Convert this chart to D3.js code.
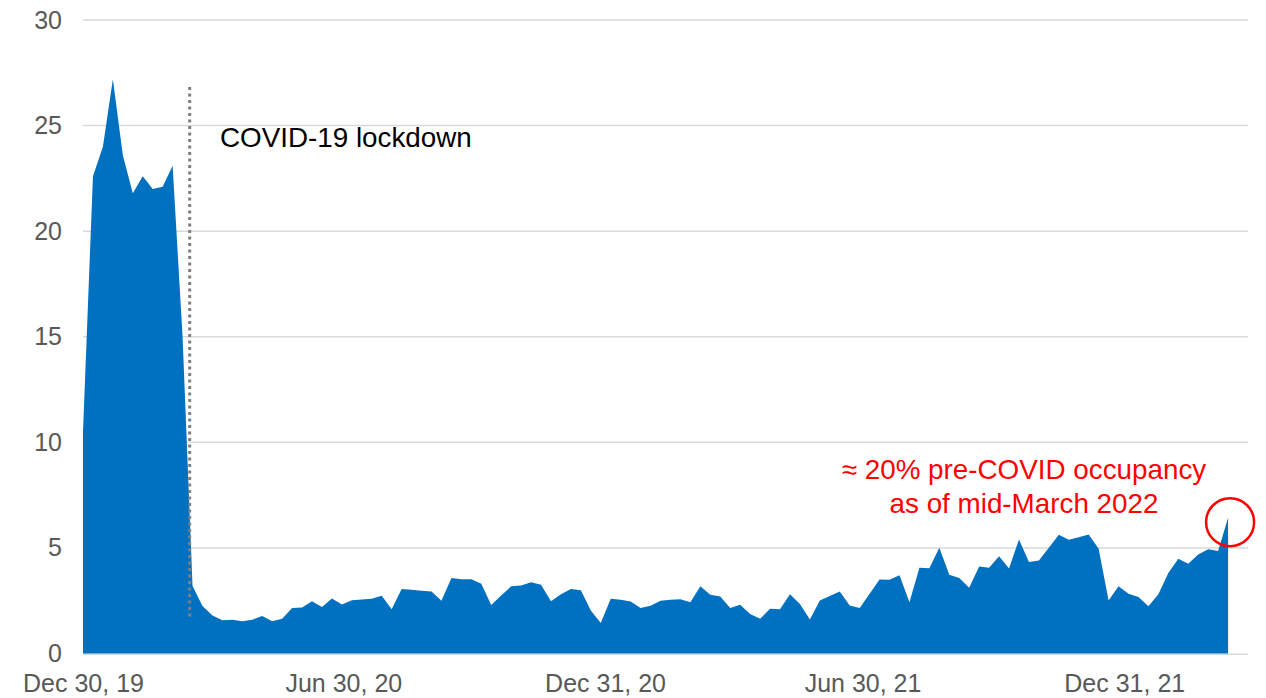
<!DOCTYPE html>
<html>
<head>
<meta charset="utf-8">
<script src="https://cdn.jsdelivr.net/npm/d3@7"></script>
<style>
  html, body { margin: 0; padding: 0; background: #fff; }
  svg { display: block; font-family: "Liberation Sans", Arial, sans-serif; }
</style>
</head>
<body>
<svg id="chart" width="1266" height="698"></svg>
<script>
// ---- Data (weekly, starting Monday Dec 30, 2019) ----
const firstWeek = "2019-12-30";
const lastWeek = "2022-03-14";
const occupancy = [
  10.5, 22.6, 24.0, 27.2, 23.6, 21.8, 22.6, 22.0, 22.1, 23.1,
  15.0, 3.2, 2.25, 1.8, 1.58, 1.6, 1.53, 1.6, 1.78, 1.53,
  1.64, 2.15, 2.18, 2.48, 2.2, 2.6, 2.32, 2.52, 2.56, 2.59,
  2.73, 2.1, 3.05, 3.02, 2.97, 2.94, 2.5, 3.58, 3.52, 3.52,
  3.3, 2.3, 2.75, 3.18, 3.22, 3.38, 3.25, 2.48, 2.81, 3.05,
  2.99, 2.04, 1.45, 2.59, 2.54, 2.46, 2.15, 2.26, 2.5, 2.54,
  2.57, 2.43, 3.18, 2.78, 2.7, 2.15, 2.31, 1.87, 1.64, 2.12,
  2.09, 2.8, 2.35, 1.61, 2.51, 2.72, 2.94, 2.27, 2.16, 2.83,
  3.51, 3.49, 3.7, 2.43, 4.06, 4.04, 5.01, 3.73, 3.57, 3.11,
  4.12, 4.06, 4.6, 4.02, 5.4, 4.33, 4.41, 5.01, 5.62, 5.39,
  5.51, 5.64, 4.96, 2.51, 3.18, 2.83, 2.67, 2.24, 2.8, 3.81,
  4.49, 4.25, 4.69, 4.94, 4.85, 6.43
];
const xTickDates = ["2019-12-30", "2020-06-30", "2020-12-31", "2021-06-30", "2021-12-31"];
const xTickLabels = ["Dec 30, 19", "Jun 30, 20", "Dec 31, 20", "Jun 30, 21", "Dec 31, 21"];
const yTicks = [0, 5, 10, 15, 20, 25, 30];
const axisEnd = "2022-03-28";
const lockdownDate = "2020-03-14";
const lockdownLabel = "COVID-19 lockdown";
const noteLines = ["\u2248 20% pre-COVID occupancy", "as of mid-March 2022"];

// ---- Build ----
(function () {
const parse = d3.utcParse("%Y-%m-%d");
const weeks = d3.utcMonday.range(parse(firstWeek), d3.utcDay.offset(parse(lastWeek), 1));
const data = weeks.map((d, i) => ({ date: d, value: occupancy[i] }));

const svg = d3.select("#chart");
const mLeft = 83, mRight = 1248, mTop = 20, mBottom = 653.5;

const x = d3.scaleUtc().domain([parse(firstWeek), parse(axisEnd)]).range([mLeft, mRight]);
const y = d3.scaleLinear().domain([0, 30]).range([mBottom, mTop]);

// gridlines
svg.append("g")
  .selectAll("line").data(yTicks).join("line")
  .attr("x1", mLeft).attr("x2", mRight)
  .attr("y1", d => y(d)).attr("y2", d => y(d))
  .attr("stroke", "#d9d9d9").attr("stroke-width", 1.5)
  .attr("transform", d => d === 0 ? "translate(0,0.75)" : null);

// area
const area = d3.area()
  .x(d => x(d.date))
  .y0(y(0))
  .y1(d => y(d.value));
svg.append("path").datum(data)
  .attr("d", area)
  .attr("fill", "#0070C0");

// y axis
const yAxis = d3.axisLeft(y).tickValues(yTicks).tickSize(0).tickPadding(21);
const gy = svg.append("g").attr("transform", `translate(${mLeft},0)`).call(yAxis);
gy.select(".domain").remove();
gy.selectAll("text").attr("fill", "#595959").style("font-size", "25px")
  .style("font-family", "'Liberation Sans', Arial, sans-serif");

// x axis
const xAxis = d3.axisBottom(x)
  .tickValues(xTickDates.map(parse))
  .tickFormat((d, i) => xTickLabels[i])
  .tickSize(0).tickPadding(20.5);
const gx = svg.append("g").attr("transform", `translate(0,${mBottom})`).call(xAxis);
gx.select(".domain").remove();
gx.selectAll("text").attr("fill", "#595959").style("font-size", "25px")
  .style("font-family", "'Liberation Sans', Arial, sans-serif");

// lockdown dotted line
const lx = x(parse(lockdownDate));
svg.append("line")
  .attr("x1", lx).attr("x2", lx)
  .attr("y1", 87).attr("y2", 619)
  .attr("stroke", "#7f7f7f").attr("stroke-width", 3)
  .attr("stroke-dasharray", "3,3.5");

svg.append("text")
  .attr("x", 220).attr("y", 146.5)
  .attr("fill", "#000")
  .style("font-size", "27.8px")
  .text(lockdownLabel);

// note
const note = svg.append("text")
  .attr("text-anchor", "middle")
  .attr("fill", "#ff0000")
  .style("font-size", "27.8px");
note.selectAll("tspan").data(noteLines).join("tspan")
  .attr("x", 1024)
  .attr("y", (d, i) => 478.5 + i * 34)
  .text(d => d);

// circle around last point
const last = data[data.length - 1];
svg.append("circle")
  .attr("cx", x(last.date) + 2)
  .attr("cy", y(last.value) + 4.5)
  .attr("r", 24)
  .attr("fill", "none")
  .attr("stroke", "#ff0000")
  .attr("stroke-width", 2.5);
})();
</script>
</body>
</html>
